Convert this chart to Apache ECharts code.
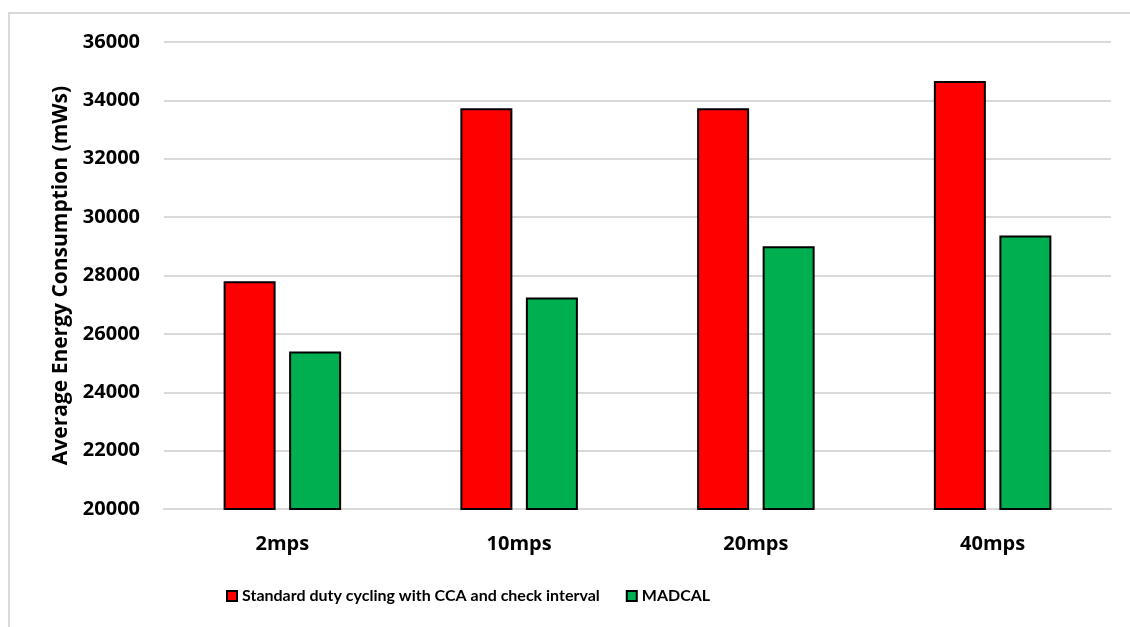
<!DOCTYPE html>
<html>
<head>
<meta charset="utf-8">
<script src="https://cdn.jsdelivr.net/npm/echarts@6/dist/echarts.min.js"></script>
<style>
  html, body { margin: 0; padding: 0; background: #fff; }
  #chart { width: 1130px; height: 627px; }
</style>
</head>
<body>
<div id="chart"></div>
<script>
// Message rates on the x axis
const categories = ['2mps', '10mps', '20mps', '40mps'];
// Average energy consumption (mWs) per protocol
const standardValues = [27800, 33730, 33730, 34660];
const madcalValues = [25400, 27250, 29000, 29370];
const seriesNames = ['Standard duty cycling with CCA and check interval', 'MADCAL'];
const yTitle = 'Average Energy Consumption (mWs)';

const FONT = 'Open Sans';
const LEGEND_FONT = 'Lato';
const chart = echarts.init(document.getElementById('chart'), null, { renderer: 'canvas' });

chart.setOption({
  backgroundColor: '#ffffff',
  animation: false,
  graphic: [{
    type: 'rect',
    shape: { x: 9, y: 13, width: 1140, height: 700 },
    style: { fill: 'none', stroke: '#d9d9d9', lineWidth: 2 },
    silent: true,
    z: -10
  }],
  legend: {
    left: 221,
    top: 583,
    icon: 'rect',
    itemWidth: 10,
    itemHeight: 10,
    itemGap: 26,
    textStyle: { fontFamily: LEGEND_FONT, fontWeight: 'bold', fontSize: 16, color: '#000' },
    data: seriesNames
  },
  grid: { left: 164, right: 19, top: 42, bottom: 118, containLabel: false },
  xAxis: {
    type: 'category',
    data: categories,
    axisTick: { show: false },
    axisLine: { show: true, lineStyle: { color: '#d9d9d9', width: 2 } },
    axisLabel: { margin: 25, fontFamily: FONT, fontWeight: 'bold', fontSize: 20, color: '#000' }
  },
  yAxis: {
    type: 'value',
    min: 20000,
    max: 36000,
    interval: 2000,
    name: yTitle,
    nameLocation: 'middle',
    nameGap: 92,
    nameTextStyle: { fontFamily: FONT, fontWeight: 'bold', fontSize: 21, color: '#000' },
    axisLine: { show: false },
    axisTick: { show: false },
    splitLine: { lineStyle: { color: '#d9d9d9', width: 2 } },
    axisLabel: {
      margin: 24,
      fontFamily: FONT, fontWeight: 'bold', fontSize: 20, color: '#000',
      formatter: (v) => String(v)
    }
  },
  series: [
    {
      name: seriesNames[0],
      type: 'bar',
      data: standardValues,
      barWidth: 52,
      barGap: '26%',
      itemStyle: { color: '#ff0000', borderColor: '#000', borderWidth: 2 }
    },
    {
      name: seriesNames[1],
      type: 'bar',
      data: madcalValues,
      barWidth: 52,
      barGap: '26%',
      itemStyle: { color: '#00b050', borderColor: '#000', borderWidth: 2 }
    }
  ]
});
</script>
</body>
</html>
